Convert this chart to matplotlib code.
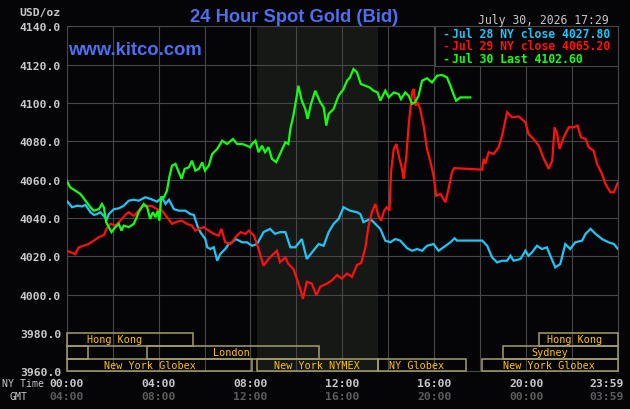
import matplotlib
matplotlib.use("Agg")
import matplotlib.pyplot as plt
from matplotlib.patches import Rectangle
import matplotlib.transforms as mtransforms

# ---------------- data (minutes after 00:00 NY time, price) ----------------
jul28_min = [0, 14, 27, 40, 49, 62, 71, 79, 88, 97, 105, 110, 123, 136, 149, 162, 175, 188,
             205, 218, 236, 249, 258, 267, 280, 293, 310, 323, 332, 341, 349, 362, 367, 375,
             384, 393, 401, 414, 423, 432, 441, 450, 458, 471, 484, 497, 514, 531, 544, 557,
             571, 584, 597, 614, 627, 644, 658, 671, 684, 697, 710, 723, 740, 758, 767, 775,
             793, 806, 819, 832, 845, 858, 871, 889, 902, 915, 928, 941, 958, 971, 984, 1002,
             1013, 1019, 1085, 1098, 1111, 1124, 1137, 1150, 1159, 1167, 1185, 1198, 1206,
             1215, 1228, 1241, 1254, 1263, 1276, 1289, 1302, 1315, 1328, 1346, 1355, 1368,
             1381, 1398, 1415, 1429, 1439]
jul28_val = [4049.0, 4045.6, 4046.4, 4046.0, 4046.8, 4043.0, 4041.6, 4042.0, 4043.0, 4041.0,
             4039.5, 4042.0, 4044.6, 4045.0, 4046.4, 4049.0, 4049.5, 4049.0, 4050.8, 4050.0,
             4048.5, 4050.8, 4047.3, 4049.5, 4044.6, 4043.8, 4043.8, 4042.0, 4041.6, 4036.0,
             4032.6, 4029.0, 4024.7, 4023.8, 4024.7, 4017.7, 4021.2, 4023.8, 4026.4, 4027.3,
             4029.0, 4028.2, 4027.3, 4027.3, 4025.5, 4026.4, 4032.6, 4034.3, 4031.7, 4032.6,
             4032.6, 4024.7, 4024.7, 4029.0, 4018.6, 4022.9, 4026.4, 4025.5, 4032.6, 4036.9,
             4039.5, 4045.6, 4043.8, 4043.0, 4042.0, 4037.8, 4039.5, 4036.9, 4034.3, 4028.2,
             4027.3, 4029.0, 4028.2, 4024.2, 4022.9, 4023.8, 4022.9, 4025.5, 4026.4, 4022.9,
             4024.7, 4027.3, 4029.4, 4028.2, 4028.2, 4025.5, 4019.4, 4016.8, 4017.7, 4017.7,
             4020.3, 4017.7, 4018.6, 4022.9, 4020.3, 4022.0, 4025.5, 4023.8, 4024.7, 4020.3,
             4014.2, 4016.0, 4026.4, 4023.8, 4027.3, 4028.2, 4031.7, 4034.3, 4031.7, 4029.0,
             4027.3, 4026.4, 4024.0]

jul29_min = [0, 14, 22, 31, 44, 57, 71, 84, 97, 105, 114, 127, 140, 153, 162, 175, 184, 197,
             210, 223, 236, 249, 262, 275, 288, 301, 314, 327, 336, 349, 358, 371, 384, 397,
             404, 414, 428, 441, 454, 467, 476, 489, 501, 514, 527, 540, 549, 557, 571, 579,
             592, 601, 610, 617, 627, 640, 652, 662, 680, 693, 706, 719, 732, 745, 758, 769,
             780, 788, 797, 806, 814, 821, 829, 836, 843, 847, 854, 861, 869, 874, 880, 887,
             893, 902, 906, 911, 916, 923, 932, 941, 950, 958, 965, 976, 989, 997, 1006, 1012,
             1085, 1089, 1093, 1102, 1115, 1128, 1137, 1150, 1163, 1180, 1198, 1206, 1219,
             1233, 1246, 1259, 1268, 1274, 1281, 1287, 1298, 1311, 1324, 1334, 1343, 1355,
             1363, 1376, 1385, 1398, 1407, 1420, 1429, 1439]
jul29_val = [4022.8, 4021.9, 4021.0, 4024.6, 4025.5, 4026.4, 4028.2, 4030.0, 4031.1, 4034.6,
             4036.9, 4036.0, 4038.6, 4041.6, 4043.0, 4041.0, 4043.0, 4046.1, 4046.4, 4046.1,
             4044.6, 4043.8, 4040.4, 4036.9, 4038.1, 4038.6, 4036.9, 4036.0, 4033.4, 4034.6,
             4035.2, 4033.4, 4031.7, 4030.8, 4034.3, 4027.3, 4026.4, 4030.0, 4032.6, 4031.7,
             4033.4, 4030.8, 4023.8, 4015.1, 4018.6, 4021.2, 4022.9, 4016.9, 4019.4, 4016.0,
             4013.4, 4008.2, 4003.0, 3997.8, 4006.7, 4005.8, 3999.7, 4004.1, 4005.8, 4007.5,
             4010.2, 4008.4, 4011.0, 4009.3, 4015.5, 4016.5, 4024.5, 4035.6, 4043.0, 4047.3,
             4041.2, 4038.6, 4043.8, 4045.6, 4043.8, 4063.8, 4076.0, 4078.6, 4070.8, 4067.3,
             4060.3, 4072.5, 4088.2, 4105.6, 4107.3, 4098.6, 4100.4, 4096.9, 4088.2, 4076.0,
             4069.1, 4062.1, 4051.6, 4052.5, 4048.2, 4055.1, 4063.8, 4066.0, 4065.2, 4070.8,
             4068.2, 4074.3, 4073.4, 4076.9, 4082.9, 4095.1, 4092.5, 4093.0, 4089.9, 4083.8,
             4081.2, 4077.7, 4070.8, 4065.6, 4069.9, 4087.3, 4083.8, 4076.0, 4082.1, 4087.3,
             4087.3, 4088.2, 4082.1, 4081.2, 4076.9, 4075.1, 4068.2, 4063.0, 4057.7, 4053.4,
             4053.4, 4058.3]

jul30_min = [0, 9, 22, 36, 49, 62, 71, 84, 92, 97, 103, 110, 117, 127, 136, 143, 149, 162,
             175, 181, 188, 201, 210, 218, 225, 232, 238, 242, 247, 254, 262, 268, 275, 284,
             291, 300, 308, 319, 327, 336, 345, 354, 361, 371, 380, 393, 406, 419, 434, 445,
             458, 471, 479, 484, 493, 501, 510, 518, 527, 536, 547, 557, 571, 579, 584, 592,
             601, 605, 614, 623, 629, 638, 649, 662, 671, 678, 684, 697, 710, 723, 732, 740,
             749, 758, 768, 780, 791, 801, 812, 819, 832, 841, 854, 867, 873, 884, 893, 902,
             910, 919, 928, 941, 954, 967, 980, 993, 1002, 1010, 1017, 1028, 1054]
jul30_val = [4059.5, 4056.0, 4054.3, 4052.5, 4049.0, 4045.6, 4043.8, 4044.6, 4047.3, 4045.6,
             4037.8, 4035.2, 4032.6, 4035.2, 4036.9, 4033.4, 4036.0, 4035.2, 4036.9, 4039.5,
             4043.0, 4047.3, 4045.6, 4039.5, 4043.0, 4040.4, 4043.8, 4038.6, 4050.8, 4050.8,
             4054.3, 4061.3, 4067.3, 4068.2, 4064.7, 4060.4, 4065.6, 4066.4, 4069.9, 4064.7,
             4065.6, 4069.0, 4064.7, 4067.3, 4073.4, 4076.0, 4080.3, 4078.6, 4081.2, 4078.6,
             4078.6, 4077.7, 4076.9, 4078.6, 4080.3, 4074.3, 4077.7, 4074.3, 4076.9, 4070.8,
             4069.1, 4073.4, 4079.5, 4078.6, 4086.4, 4093.4, 4103.8, 4109.0, 4101.2, 4096.9,
             4091.7, 4099.5, 4106.4, 4100.4, 4097.8, 4088.2, 4094.3, 4096.9, 4103.8, 4107.3,
             4111.6, 4113.4, 4117.7, 4116.0, 4109.9, 4109.0, 4108.1, 4106.4, 4105.5, 4101.2,
             4106.4, 4102.9, 4105.5, 4104.6, 4102.0, 4105.5, 4103.8, 4099.5, 4100.4, 4103.8,
             4111.6, 4112.9, 4110.7, 4114.2, 4114.6, 4113.4, 4109.0, 4104.6, 4101.2, 4102.9,
             4102.9]

legend_labels = ["Jul 28 NY close 4027.80", "Jul 29 NY close 4065.20", "Jul 30 Last 4102.60"]
series_colors = ["#1ec6f5", "#ff1010", "#12ff12"]

y_ticks = [4000, 4020, 4040, 4060, 4080, 4100, 4120, 4140]
y_tick_labels = ["4000.0", "4020.0", "4040.0", "4060.0", "4080.0", "4100.0", "4120.0", "4140.0"]
y_bottom_labels = [3960, 3980]
ny_time_hours = [0, 4, 8, 12, 16, 20, 23.983]
ny_time_labels = ["00:00", "04:00", "08:00", "12:00", "16:00", "20:00", "23:59"]
gmt_labels = ["04:00", "08:00", "12:00", "16:00", "20:00", "00:00", "03:59"]

# sessions: name, start hour, end hour, row (0 = bottom), label hour
sessions = [
    ("Hong Kong", 0.0, 5.49, 2, 2.10),
    ("Hong Kong", 20.54, 23.983, 2, 22.1),
    ("", 0.0, 0.94, 1, None),
    ("London", 3.48, 10.96, 1, 7.16),
    ("Sydney", 19.0, 23.983, 1, 21.03),
    ("New York Globex", 0.0, 8.06, 0, 3.63),
    ("New York NYMEX", 8.27, 13.55, 0, 10.9),
    ("NY Globex", 13.55, 17.38, 0, 15.21),
    ("New York Globex", 18.07, 23.983, 0, 21.0),
]
nymex_shade = (8.3, 13.55)

# ---------------- figure ----------------
BG = "#050407"
GRID = "#474747"
TXT = "#c8c8c8"
MONO = "DejaVu Sans Mono"

fig = plt.figure(figsize=(6.3, 4.1), dpi=100, facecolor=BG)
ax = fig.add_axes([66.7 / 630, 1 - 372.3 / 410, (617.7 - 66.7) / 630, (372.3 - 27.3) / 410])
ax.set_facecolor(BG)
ax.set_xlim(0, 23.983)
ax.set_ylim(3960, 4140)

ax.axvspan(nymex_shade[0], nymex_shade[1], color="#151815", zorder=0, lw=0)

for xv in range(0, 24, 2):
    ax.axvline(xv, color=GRID, lw=0.8, zorder=1)
for yv in y_ticks:
    ax.axhline(yv, color=GRID, lw=0.8, zorder=1)

for s in ax.spines.values():
    s.set_color(GRID)
    s.set_linewidth(0.8)

ax.set_xticks([])
ax.set_yticks(y_ticks + y_bottom_labels)
ax.set_yticklabels(y_tick_labels + ["3960.0", "3980.0"], family=MONO, fontweight="bold",
                   fontsize=8.2, color=TXT)
ax.tick_params(axis="y", length=0, pad=4)

# legend box
ax.add_patch(Rectangle((16.03, 4119.4), 23.983 - 16.03, 25, facecolor=BG, edgecolor=GRID,
                       lw=0.8, zorder=2))

# series
for mins, vals, col in [(jul28_min, jul28_val, series_colors[0]),
                        (jul29_min, jul29_val, series_colors[1]),
                        (jul30_min, jul30_val, series_colors[2])]:
    ax.plot([m / 60 for m in mins], vals, color=col, lw=1.6, zorder=3,
            solid_joinstyle="miter")

# sessions
row_h = 20 / 3
for name, x0, x1, row, lx in sessions:
    y0 = 3960 + row * row_h
    ax.add_patch(Rectangle((x0, y0), x1 - x0, row_h, facecolor="none",
                           edgecolor="#a39e6e", lw=1.1, zorder=4, clip_on=False))
    if name:
        ax.text(lx, y0 + row_h / 2, name, color="#ffc400", family=MONO, fontsize=7.3,
                ha="center", va="center", zorder=5)

# titles
fig.text(294.5 / 630, 1 - 21.7 / 410, "24 Hour Spot Gold (Bid)", color="#4f6ff0",
         family="Liberation Sans", fontsize=13.2, fontweight="bold", ha="center",
         va="baseline")
fig.text(68 / 630, 1 - 55 / 410, "www.kitco.com", color="#4f6ff0",
         family="Liberation Sans", fontsize=13.3, fontweight="bold", ha="left", va="baseline")
fig.text(608.5 / 630, 1 - 24 / 410, "July 30, 2026 17:29", color=TXT, family=MONO,
         fontsize=8.3, ha="right", va="baseline")
fig.text(61 / 630, 1 - 13 / 410, "USD/oz", color=TXT, family=MONO, fontsize=8.2,
         fontweight="bold", ha="right", va="center")

# legend text
for i, (lab, col) in enumerate(zip(legend_labels, series_colors)):
    yy = 1 - (34 + i * 12.6) / 410
    fig.text(451.5 / 630, yy, lab, color=col, family=MONO, fontsize=8.3,
             fontweight="bold", ha="left", va="center")
    fig.text(445.3 / 630, yy, "-", color=col, family=MONO, fontsize=8.3,
             fontweight="bold", ha="center", va="center")

# bottom time labels
tr = mtransforms.blended_transform_factory(ax.transData, fig.transFigure)
for h, ny, gmt in zip(ny_time_hours, ny_time_labels, gmt_labels):
    hx = h if h < 23 else h - 0.47
    ax.text(hx, 1 - 384.5 / 410, ny, transform=tr, color=TXT, family=MONO, fontsize=8.2,
            fontweight="bold", ha="center", va="center")
    ax.text(hx, 1 - 397.5 / 410, gmt, transform=tr, color="#5c5c5c", family=MONO,
            fontsize=8.2, fontweight="bold", ha="center", va="center")
fig.text(43.5 / 630, 1 - 384.5 / 410, "NY Time", color=TXT, family=MONO, fontsize=7.1,
         ha="right", va="center")
fig.text(27.8 / 630, 1 - 397.5 / 410, "GMT", color=TXT, family=MONO, fontsize=7.1,
         ha="right", va="center")

fig.savefig("out.png", dpi=100, facecolor=BG)
